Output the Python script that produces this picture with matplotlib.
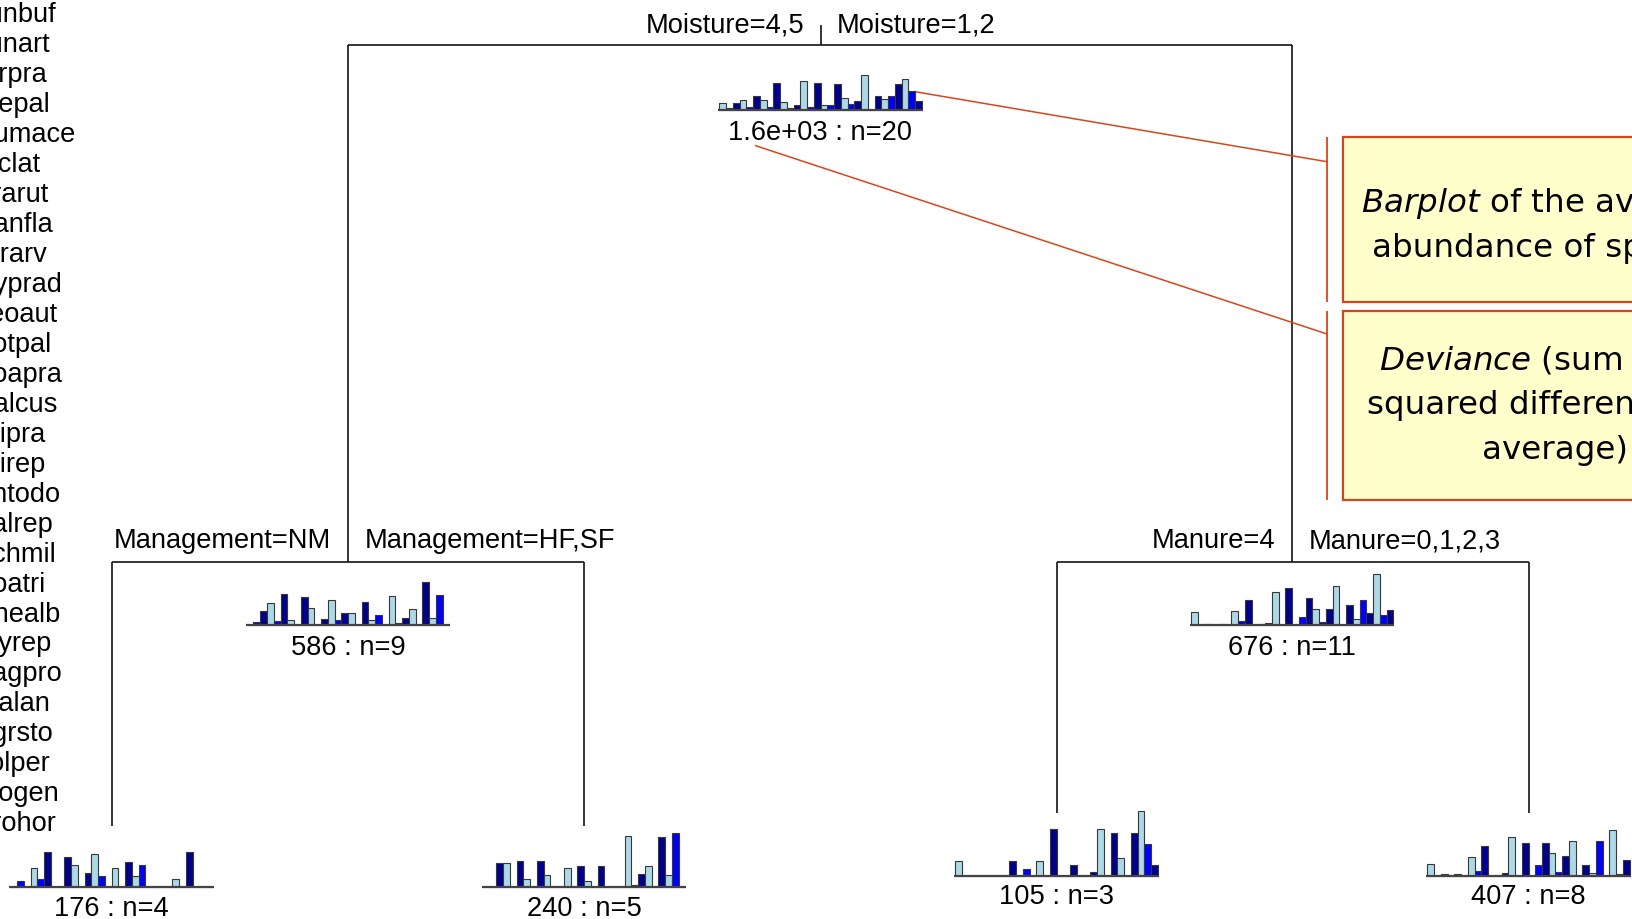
import matplotlib
matplotlib.use("Agg")
import matplotlib.pyplot as plt
from matplotlib.patches import Rectangle
import numpy as np

W, H, DPI = 1632, 919, 100

# Species legend (left column)
species = ["Junbuf", "Junart", "Airpra", "Elepal", "Rumace", "Viclat", "Brarut",
           "Ranfla", "Cirarv", "Hyprad", "Leoaut", "Potpal", "Poapra", "Calcus",
           "Tripra", "Trirep", "Antodo", "Salrep", "Achmil", "Poatri", "Chealb",
           "Elyrep", "Sagpro", "Plalan", "Agrsto", "Lolper", "Alogen", "Brohor"]

# Mean abundance of the 30 species at each node of the tree
root_means = [0.70, 0.13, 0.70, 0.97, 0.23, 1.33, 0.97, 0.23, 2.67, 0.73,
              0.13, 0.47, 2.90, 0.23, 2.63, 0.50, 0.43, 2.57, 1.13, 0.57,
              0.87, 3.43, 0.00, 1.40, 1.07, 1.40, 2.60, 3.10, 1.90, 0.83]
wet_means = [0.00, 0.23, 1.33, 2.17, 0.40, 3.03, 0.43, 0.00, 2.77, 1.67,
             0.00, 0.57, 2.50, 0.43, 1.17, 1.17, 0.00, 2.27, 0.43, 0.93,
             0.00, 2.83, 0.17, 0.67, 1.57, 0.00, 4.30, 0.67, 3.00, 0.00]
dry_means = [1.23, 0.00, 0.10, 0.00, 0.10, 0.00, 1.33, 0.33, 2.50, 0.00,
             0.10, 0.17, 3.23, 0.00, 3.67, 0.00, 0.77, 2.67, 1.60, 0.27,
             1.53, 3.83, 0.00, 1.93, 0.60, 2.50, 1.17, 5.07, 1.00, 1.43]
nm_means = [0.00, 0.57, 0.00, 1.83, 0.77, 3.50, 0.00, 0.00, 3.00, 2.17,
            0.00, 1.33, 3.23, 1.07, 0.00, 1.83, 0.00, 2.43, 1.07, 2.17,
            0.00, 0.00, 0.00, 0.00, 0.77, 0.00, 3.50, 0.00, 0.00, 0.00]
hfsf_means = [0.00, 0.00, 2.33, 2.33, 0.00, 2.53, 0.77, 0.00, 2.53, 1.20,
              0.00, 0.00, 1.87, 0.00, 2.10, 0.60, 0.00, 2.10, 0.00, 0.00,
              0.00, 5.10, 0.20, 1.27, 2.10, 0.00, 4.93, 1.20, 5.33, 0.00]
man4_means = [1.47, 0.00, 0.00, 0.00, 0.00, 0.00, 0.00, 0.00, 1.47, 0.00,
              0.73, 0.00, 1.47, 0.00, 4.67, 0.00, 0.00, 1.07, 0.00, 0.00,
              0.40, 4.67, 0.00, 4.33, 1.80, 0.00, 4.33, 6.47, 3.23, 1.07]
man0123_means = [1.23, 0.00, 0.23, 0.00, 0.23, 0.00, 1.90, 0.50, 2.97, 0.00,
                 0.00, 0.27, 3.90, 0.00, 3.33, 0.00, 1.07, 3.33, 2.30, 0.40,
                 2.00, 3.50, 0.00, 1.07, 0.30, 3.50, 0.00, 4.57, 0.23, 1.63]

node_deviance = [1600, 586, 676, 176, 240, 105, 407]
node_n = [20, 9, 11, 4, 5, 3, 8]
split_labels = [("Moisture=4,5", "Moisture=1,2"),
                ("Management=NM", "Management=HF,SF"),
                ("Manure=4", "Manure=0,1,2,3")]

box_lines = [[r"$\mathit{Barplot}$ of the average", "abundance of species"],
             [r"$\mathit{Deviance}$ (sum of the", "squared differences to", "average)"]]

# ---- styling / layout -----------------------------------------------------
palette = ["#ADD8E6", "#0000FF", "#00008B"]
bar_colors = [palette[i % 3] for i in range(len(root_means))]
RED = "#D6461C"
LINE = "#1c1c1c"
tree_font = dict(family=["Liberation Sans", "DejaVu Sans"], fontsize=19.6, color="black")
box_font = dict(family="DejaVu Sans", fontsize=23.4, color="black")
PX_PER_UNIT = 10.0
BAR_W = 6.75

plt.rcParams["mathtext.fontset"] = "dejavusans"

fig = plt.figure(figsize=(W / DPI, H / DPI), dpi=DPI)
fig.patch.set_facecolor("white")
ax = fig.add_axes([0, 0, 1, 1])
ax.set_xlim(0, W)
ax.set_ylim(H, 0)
ax.axis("off")


def barplot(cx, base, values):
    n = len(values)
    width = n * BAR_W
    height = 80
    bax = fig.add_axes([(cx - width / 2) / W, 1 - base / H, width / W, height / H])
    bax.set_xlim(0, n)
    bax.set_ylim(0, height / PX_PER_UNIT)
    bax.bar(np.arange(n), values, width=1.0, align="edge", color=bar_colors,
            edgecolor="#383838", linewidth=0.8, clip_on=False)
    bax.plot([-0.15, n + 0.15], [0, 0], color="#444444", lw=1.6, clip_on=False,
             solid_capstyle="butt")
    bax.axis("off")
    bax.patch.set_alpha(0)


def node_label(cx, y, dev, n):
    dev_txt = f"{dev:.1e}" if dev >= 1000 else f"{dev:d}"
    ax.text(cx, y, f"{dev_txt} : n={n}", ha="center", va="baseline", **tree_font)


def hline(x0, x1, y, **kw):
    ax.plot([x0, x1], [y, y], color=kw.get("color", LINE), lw=kw.get("lw", 1.25),
            solid_capstyle="butt")


def vline(x, y0, y1, **kw):
    ax.plot([x, x], [y0, y1], color=kw.get("color", LINE), lw=kw.get("lw", 1.25),
            solid_capstyle="butt")


# node centres (x) and levels (y)
x_root, x_l, x_r = 820.5, 348.0, 1292.0
x_ll, x_lr, x_rl, x_rr = 111.6, 584.0, 1056.7, 1528.5
y_top, y_mid = 44.8, 562.0

# tree skeleton
vline(x_root, 25, y_top)
hline(x_l, x_r, y_top)
vline(x_l, y_top, y_mid)
vline(x_r, y_top, y_mid)
hline(x_ll, x_lr, y_mid)
hline(x_rl, x_rr, y_mid)
vline(x_ll, y_mid, 826)
vline(x_lr, y_mid, 826)
vline(x_rl, y_mid, 813)
vline(x_rr, y_mid, 813)

# split labels
for (lab_l, lab_r), (cx, yb) in zip(split_labels, [(x_root, 32.5), (x_l, 548), (x_r, 548)]):
    ax.text(cx - 16.5, yb, lab_l, ha="right", va="baseline", **tree_font)
    ax.text(cx + 16.5, yb, lab_r, ha="left", va="baseline", **tree_font)

# barplots and deviance labels
nodes = [(x_root, 109.7, root_means, 140.0),
         (x_l, 624.5, wet_means, 655.0),
         (x_r, 624.5, dry_means, 655.0),
         (x_ll, 886.5, nm_means, 915.5),
         (x_lr, 886.5, hfsf_means, 915.5),
         (x_rl, 876.0, man4_means, 903.5),
         (x_rr, 876.0, man0123_means, 903.5)]
for (cx, base, vals, ylab), dev, n in zip(nodes, node_deviance, node_n):
    barplot(cx, base, vals)
    node_label(cx, ylab, dev, n)

# species legend column
for i, name in enumerate(species):
    ax.text(-25, 22.5 + 29.95 * i, name, ha="left", va="baseline", **tree_font)

# explanatory callouts
ax.plot([915, 1327], [91.7, 161.7], color=RED, lw=1.1)
ax.plot([755.6, 1327], [145.7, 334], color=RED, lw=1.1)
vline(1327, 137, 302, color=RED, lw=1.3)
vline(1327, 311, 500, color=RED, lw=1.3)
ax.add_patch(Rectangle((1343, 137.3), 400, 164.4, facecolor="#FFFFCC",
                       edgecolor=RED, lw=1.6, clip_on=False))
ax.add_patch(Rectangle((1343, 311), 400, 189, facecolor="#FFFFCC",
                       edgecolor=RED, lw=1.6, clip_on=False))

box1_pos = [(1361, 212), (1372, 257)]
box2_pos = [(1379, 369), (1367, 414), (1482, 459)]
for txt, (x, y) in zip(box_lines[0], box1_pos):
    ax.text(x, y, txt, ha="left", va="baseline", **box_font)
for txt, (x, y) in zip(box_lines[1], box2_pos):
    ax.text(x, y, txt, ha="left", va="baseline", **box_font)

fig.savefig("out.png", dpi=DPI, facecolor="white")
